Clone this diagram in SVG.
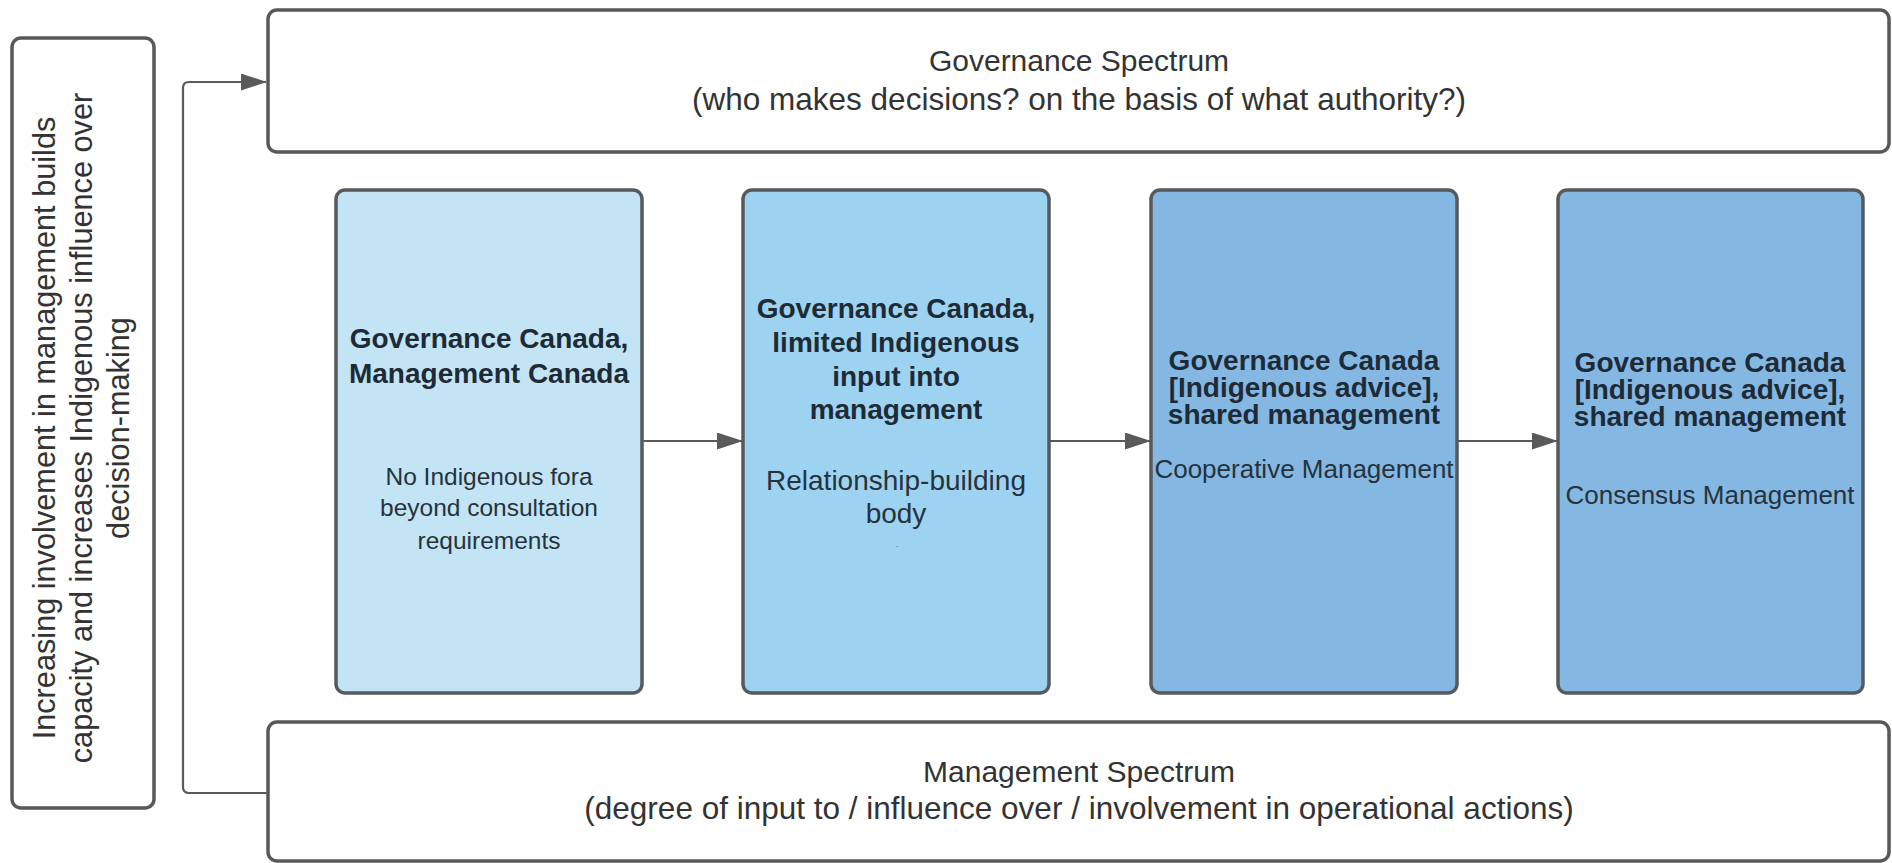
<svg xmlns="http://www.w3.org/2000/svg" width="1892" height="863" viewBox="0 0 1892 863">
<style>
.box{fill:#ffffff;stroke:#585858;stroke-width:3.5}
.node{stroke:#565a5e;stroke-width:3.5}
.t{font-family:"Liberation Sans",Arial,sans-serif;fill:#333333;text-anchor:middle}
.big{font-size:30px}
.big2{font-size:31.5px}
.side{font-size:30.7px}
.title{font-size:28px;font-weight:bold;fill:#1e2b36}
.sub{fill:#26323c}
.conn{fill:none;stroke:#5a5a5a;stroke-width:2.2}
</style>
<defs>
<marker id="arr" markerWidth="26" markerHeight="18" refX="25" refY="8.5" orient="auto" markerUnits="userSpaceOnUse">
<path d="M0,0 L26,8.5 L0,17 Z" fill="#5a5a5a"/>
</marker>
</defs>
<rect width="1892" height="863" fill="#ffffff"/>
<g id="connectors">
<path class="conn" d="M268,793 L189,793 Q183,793 183,787 L183,88 Q183,82 189,82 L266,82" marker-end="url(#arr)"/>
<line class="conn" x1="642" y1="441" x2="742" y2="441" marker-end="url(#arr)"/>
<line class="conn" x1="1049" y1="441" x2="1150" y2="441" marker-end="url(#arr)"/>
<line class="conn" x1="1457" y1="441" x2="1557" y2="441" marker-end="url(#arr)"/>
</g>
<g id="side-label">
<rect class="box" x="12" y="38" width="142" height="770" rx="9"/>
<g transform="translate(0,428) rotate(-90)">
<text class="t side" x="0" y="55">Increasing involvement in management builds</text>
<text class="t side" x="0" y="92">capacity and increases Indigenous influence over</text>
<text class="t side" x="0" y="129">decision-making</text>
</g>
</g>
<g id="governance-spectrum">
<rect class="box" x="268" y="10" width="1621" height="142" rx="9"/>
<text class="t big" x="1079" y="71">Governance Spectrum</text>
<text class="t big2" x="1079" y="110">(who makes decisions? on the basis of what authority?)</text>
</g>
<g id="management-spectrum">
<rect class="box" x="268" y="722" width="1621" height="139" rx="9"/>
<text class="t big" x="1079" y="782">Management Spectrum</text>
<text class="t big2" x="1079" y="819">(degree of input to / influence over / involvement in operational actions)</text>
</g>
<g id="node1">
<rect class="node" x="336" y="190" width="306" height="503" rx="9" fill="#c2e4f5"/>
<text class="t title" x="489" y="348">Governance Canada,</text>
<text class="t title" x="489" y="383">Management Canada</text>
<text class="t sub" x="489" y="485" font-size="24.5">No Indigenous fora</text>
<text class="t sub" x="489" y="516" font-size="24.5">beyond consultation</text>
<text class="t sub" x="489" y="549" font-size="24.5">requirements</text>
</g>
<g id="node2">
<rect class="node" x="743" y="190" width="306" height="503" rx="9" fill="#9dd3f0"/>
<text class="t title" x="896" y="318">Governance Canada,</text>
<text class="t title" x="896" y="352">limited Indigenous</text>
<text class="t title" x="896" y="386">input into</text>
<text class="t title" x="896" y="419">management</text>
<text class="t sub" x="896" y="490" font-size="28">Relationship-building</text>
<text class="t sub" x="896" y="523" font-size="28">body</text>
<text class="t sub" x="897" y="547" font-size="8">.</text>
</g>
<g id="node3">
<rect class="node" x="1151" y="190" width="306" height="503" rx="9" fill="#84b8e2"/>
<text class="t title" x="1304" y="370">Governance Canada</text>
<text class="t title" x="1304" y="397">[Indigenous advice],</text>
<text class="t title" x="1304" y="424">shared management</text>
<text class="t sub" x="1304" y="478" font-size="26">Cooperative Management</text>
</g>
<g id="node4">
<rect class="node" x="1558" y="190" width="305" height="503" rx="9" fill="#84b8e2"/>
<text class="t title" x="1710" y="372">Governance Canada</text>
<text class="t title" x="1710" y="399">[Indigenous advice],</text>
<text class="t title" x="1710" y="426">shared management</text>
<text class="t sub" x="1710" y="504" font-size="26">Consensus Management</text>
</g>
</svg>
